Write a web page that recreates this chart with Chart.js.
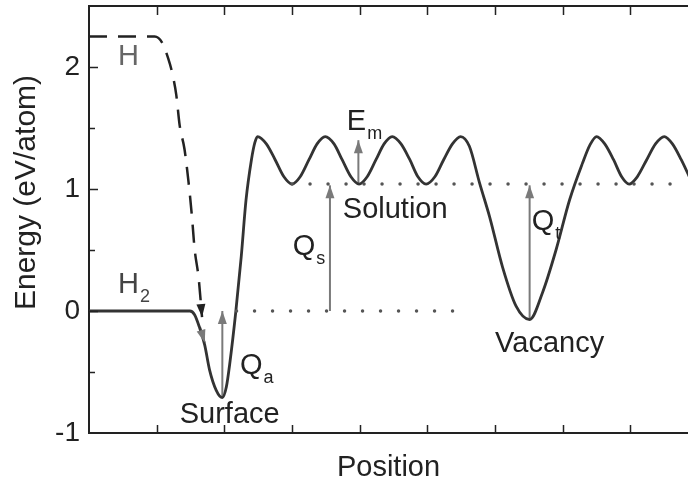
<!DOCTYPE html>
<html>
<head>
<meta charset="utf-8">
<title>Hydrogen energy diagram</title>
<script src="https://cdn.jsdelivr.net/npm/chart.js@4.4.1/dist/chart.umd.min.js"></script>
<style>
  html, body { margin: 0; padding: 0; background: #fff; }
  #wrap { width: 688px; height: 485px; }
</style>
</head>
<body>
<div id="wrap"><canvas id="energyChart" width="688" height="485"></canvas></div>
<script>
// energy along the path: H2 -> surface -> solution -> vacancy (solid curve)
var posX = [0, 1.0, 1.49, 1.56, 1.63, 1.71, 1.78, 1.88, 1.97, 2.03, 2.08, 2.17, 2.25, 2.32, 2.40, 2.45, 2.49,
            2.62, 2.75, 2.88, 3.00, 3.12, 3.25, 3.37, 3.49, 3.62, 3.74, 3.87, 3.99, 4.11, 4.24, 4.36, 4.48,
            4.61, 4.74, 4.86, 4.98, 5.11, 5.24, 5.37, 5.49, 5.62, 5.77, 5.92, 6.11, 6.31, 6.51, 6.70, 6.90,
            7.10, 7.29, 7.40, 7.50, 7.62, 7.75, 7.87, 7.98, 8.10, 8.24, 8.37, 8.50, 8.62, 8.75, 8.87];
var posY = [0, 0, 0, -0.03, -0.13, -0.28, -0.48, -0.65, -0.71, -0.62, -0.43, 0, 0.45, 0.91, 1.24, 1.38, 1.43,
            1.37, 1.24, 1.10, 1.04, 1.10, 1.24, 1.37, 1.43, 1.37, 1.24, 1.10, 1.04, 1.10, 1.24, 1.37, 1.43,
            1.37, 1.24, 1.10, 1.04, 1.10, 1.24, 1.37, 1.43, 1.35, 1.05, 0.77, 0.36, 0.04, -0.07, 0.15, 0.50,
            0.91, 1.21, 1.36, 1.43, 1.37, 1.24, 1.10, 1.04, 1.10, 1.24, 1.37, 1.43, 1.37, 1.24, 1.10];

// atomic H curve (dashed)
var hX = [0, 0.97, 1.08, 1.17, 1.23, 1.29, 1.34, 1.41, 1.47, 1.52, 1.56, 1.62, 1.67];
var hY = [2.25, 2.25, 2.20, 2.07, 1.95, 1.77, 1.52, 1.33, 1.06, 0.78, 0.51, 0.27, -0.05];

// reference levels (dotted)
var zeroLevelX = [2.18, 5.42];
var zeroLevelY = [0, 0];
var solLevelX = [3.0, 8.85];
var solLevelY = [1.04, 1.04];

// arrows
var qaX = [1.97, 1.97], qaY = [-0.71, 0.0];
var qsX = [3.56, 3.56], qsY = [0.0, 1.03];
var emX = [3.98, 3.98], emY = [1.04, 1.40];
var qtX = [6.51, 6.51], qtY = [-0.07, 1.03];
var dropX = [1.64, 1.71], dropY = [-0.13, -0.26];

var yTickLabels = [-1, 0, 1, 2];

// text labels in data coordinates (left, baseline)
var notes = [
    { text: 'H', sub: '', x: 0.43, y: 2.02, color: '#666' },
    { text: 'H', sub: '2', x: 0.43, y: 0.15, color: '#444' },
    { text: 'Q', sub: 'a', x: 2.23, y: -0.52, color: '#222' },
    { text: 'Surface', sub: '', x: 1.34, y: -0.92, color: '#222' },
    { text: 'Q', sub: 's', x: 3.01, y: 0.46, color: '#222' },
    { text: 'E', sub: 'm', x: 3.81, y: 1.48, color: '#222' },
    { text: 'Solution', sub: '', x: 3.75, y: 0.76, color: '#222' },
    { text: 'Q', sub: 't', x: 6.54, y: 0.66, color: '#222' },
    { text: 'Vacancy', sub: '', x: 6.0, y: -0.34, color: '#222' }
];

var FONT = "'Liberation Sans', Arial, sans-serif";
var ARROW_GREY = '#7a7a7a';

function pts(xs, ys) {
    return xs.map(function (x, i) { return { x: x, y: ys[i] }; });
}

function arrowSet(xs, ys) {
    return {
        data: pts(xs, ys),
        borderColor: ARROW_GREY,
        borderWidth: 2,
        pointRadius: 0,
        tension: 0,
        arrow: true
    };
}

// arrow heads at the last point of flagged datasets
var arrowHeads = {
    id: 'arrowHeads',
    afterDatasetsDraw: function (chart) {
        var ctx = chart.ctx;
        chart.data.datasets.forEach(function (ds, i) {
            if (!ds.arrow) return;
            var pts = chart.getDatasetMeta(i).data;
            var a = pts[pts.length - 2], b = pts[pts.length - 1];
            var ang = Math.atan2(b.y - a.y, b.x - a.x);
            var len = 13, half = 4.5;
            ctx.save();
            ctx.translate(b.x, b.y);
            ctx.rotate(ang);
            ctx.fillStyle = ds.borderColor;
            ctx.beginPath();
            ctx.moveTo(0, 0);
            ctx.lineTo(-len, -half);
            ctx.lineTo(-len, half);
            ctx.closePath();
            ctx.fill();
            ctx.restore();
        });
    }
};

// top border and inward tick marks
var frame = {
    id: 'frame',
    afterDraw: function (chart) {
        var ctx = chart.ctx, area = chart.chartArea;
        var xs = chart.scales.x, ys = chart.scales.y;
        ctx.save();
        ctx.strokeStyle = '#222';
        ctx.lineWidth = 2;
        ctx.beginPath();
        ctx.moveTo(area.left, area.top);
        ctx.lineTo(area.right, area.top);
        ctx.stroke();
        ctx.lineWidth = 1.5;
        ctx.beginPath();
        xs.ticks.forEach(function (t) {
            if (t.value <= xs.min || t.value >= xs.max || !Number.isInteger(t.value)) return;
            var px = Math.round(xs.getPixelForValue(t.value)) + 0.5;
            ctx.moveTo(px, area.bottom);
            ctx.lineTo(px, area.bottom - 8);
            ctx.moveTo(px, area.top);
            ctx.lineTo(px, area.top + 9);
        });
        ys.ticks.forEach(function (t) {
            if (t.value <= ys.min || t.value >= ys.max) return;
            var py = Math.round(ys.getPixelForValue(t.value)) + 0.5;
            var len = Number.isInteger(t.value) ? 9 : 6;
            ctx.moveTo(area.left, py);
            ctx.lineTo(area.left + len, py);
        });
        ctx.stroke();

        // y axis title
        ctx.fillStyle = '#222';
        ctx.font = '30px ' + FONT;
        ctx.textAlign = 'center';
        ctx.textBaseline = 'middle';
        ctx.translate(27, (area.top + area.bottom) / 2 - 27);
        ctx.rotate(-Math.PI / 2);
        ctx.fillText('Energy (eV/atom)', 0, 0);
        ctx.restore();
    }
};

// annotation text with subscripts
var labels = {
    id: 'labels',
    afterDraw: function (chart) {
        var ctx = chart.ctx;
        var xs = chart.scales.x, ys = chart.scales.y;
        ctx.save();
        ctx.textAlign = 'left';
        ctx.textBaseline = 'alphabetic';
        notes.forEach(function (n) {
            var px = xs.getPixelForValue(n.x);
            var py = ys.getPixelForValue(n.y);
            ctx.fillStyle = n.color;
            ctx.font = '29px ' + FONT;
            ctx.fillText(n.text, px, py);
            if (n.sub) {
                var w = ctx.measureText(n.text).width;
                ctx.font = '18px ' + FONT;
                ctx.fillText(n.sub, px + w + 1, py + 9);
            }
        });
        ctx.restore();
    }
};

var ctx = document.getElementById('energyChart').getContext('2d');
var energyChart = new Chart(ctx, {
    type: 'line',
    data: {
        datasets: [
            {
                data: pts(zeroLevelX, zeroLevelY),
                borderColor: '#555',
                borderWidth: 3.5,
                borderDash: [0, 18],
                borderCapStyle: 'round',
                pointRadius: 0,
                tension: 0
            },
            {
                data: pts(solLevelX, solLevelY),
                borderColor: '#555',
                borderWidth: 3.5,
                borderDash: [0, 18],
                borderCapStyle: 'round',
                pointRadius: 0,
                tension: 0
            },
            {
                data: pts(hX, hY),
                borderColor: '#222',
                borderWidth: 2.5,
                borderDash: [18, 11],
                pointRadius: 0,
                cubicInterpolationMode: 'monotone',
                arrow: true
            },
            {
                data: pts(posX, posY),
                borderColor: '#333',
                borderWidth: 2.8,
                pointRadius: 0,
                cubicInterpolationMode: 'monotone'
            },
            arrowSet(qaX, qaY),
            arrowSet(qsX, qsY),
            arrowSet(emX, emY),
            arrowSet(qtX, qtY),
            arrowSet(dropX, dropY)
        ]
    },
    options: {
        responsive: false,
        animation: false,
        devicePixelRatio: 1,
        layout: { padding: { top: 6, right: 0, bottom: 0, left: 0 } },
        plugins: {
            legend: { display: false },
            tooltip: { enabled: false }
        },
        scales: {
            x: {
                type: 'linear',
                min: 0,
                max: 8.85,
                grid: { display: false, drawTicks: false },
                border: { display: true, color: '#222', width: 2 },
                ticks: { display: false, stepSize: 1 },
                title: {
                    display: true,
                    text: 'Position',
                    color: '#222',
                    font: { family: FONT, size: 29 },
                    padding: { top: 0, bottom: 0 }
                },
                afterFit: function (scale) {
                    scale.height = 52;
                    scale.paddingLeft = 0;
                    scale.paddingRight = 0;
                }
            },
            y: {
                min: -1,
                max: 2.5,
                grid: { display: false, drawTicks: false },
                border: { display: true, color: '#222', width: 2 },
                ticks: {
                    stepSize: 0.5,
                    padding: 9,
                    color: '#222',
                    font: { family: FONT, size: 28 },
                    callback: function (v) { return yTickLabels.indexOf(v) >= 0 ? String(v) : ''; }
                },
                afterFit: function (scale) {
                    scale.width = 89;
                    scale.paddingTop = 0;
                    scale.paddingBottom = 0;
                }
            }
        }
    },
    plugins: [arrowHeads, frame, labels]
});
</script>
</body>
</html>
